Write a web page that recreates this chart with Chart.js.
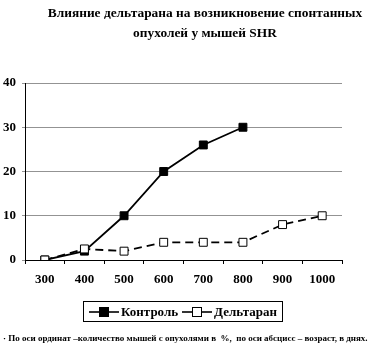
<!DOCTYPE html>
<html lang="ru">
<head>
<meta charset="utf-8">
<script src="https://cdn.jsdelivr.net/npm/chart.js@4/dist/chart.umd.min.js"></script>
<style>
  html, body { margin: 0; padding: 0; background: #fff; }
  #wrap { position: relative; width: 372px; height: 346px; overflow: hidden; font-family: 'Liberation Serif', 'Times New Roman', serif; font-weight: bold; color: #000; }
  #chart { position: absolute; left: 0; top: 0; }
  .title { position: absolute; left: 40px; width: 330px; text-align: center; font-size: 13.4px; white-space: nowrap; }
  #legend { position: absolute; left: 83px; top: 301px; width: 198px; height: 19px; border: 1px solid #000; display: flex; align-items: center; justify-content: center; font-size: 13px; white-space: nowrap; }
  #legend .item { display: flex; align-items: center; margin: 0 2px; }
  #legend svg { margin-right: 2px; }
  #note { position: absolute; left: 3px; top: 333px; font-size: 9px; white-space: nowrap; }
</style>
</head>
<body>
<div id="wrap">
  <canvas id="chart" width="372" height="346"></canvas>
  <div class="title" style="top:5px">Влияние дельтарана на возникновение спонтанных</div>
  <div class="title" style="top:25px">опухолей у мышей SHR</div>
  <div id="legend"></div>
  <div id="note">· По оси ординат –количество мышей с опухолями в &nbsp;%, &nbsp;по оси абсцисс – возраст, в днях.</div>
</div>
<script>
// возраст, дни
const days = ['300', '400', '500', '600', '700', '800', '900', '1000'];
// % мышей с опухолями
const control = [0, 2, 10, 20, 26, 30, null, null];
const deltaran = [0, 2.5, 2, 4, 4, 4, 8, 10];
const yTicks = [0, 10, 20, 30, 40];

const tickFont = { family: "'Liberation Serif', 'Times New Roman', serif", size: 13, weight: 'bold' };

const chart = new Chart(document.getElementById('chart'), {
  type: 'line',
  data: {
    labels: days,
    datasets: [
      {
        label: 'Контроль', data: control, order: 1,
        borderColor: '#000', borderWidth: 1.8, backgroundColor: '#000',
        pointStyle: 'rect', pointRadius: 5.6, pointBorderColor: '#000', pointBackgroundColor: '#000', pointBorderWidth: 1,
        spanGaps: false, tension: 0
      },
      {
        label: 'Дельтаран', data: deltaran, order: 0,
        borderColor: '#000', borderWidth: 1.8, borderDash: [8, 5], backgroundColor: '#fff',
        pointStyle: 'rect', pointRadius: 5.6, pointBorderColor: '#000', pointBackgroundColor: '#fff', pointBorderWidth: 1,
        tension: 0
      }
    ]
  },
  options: {
    responsive: false,
    animation: false,
    events: [],
    layout: { padding: { left: 0, right: 30, top: 83, bottom: 46 } },
    plugins: { legend: { display: false }, title: { display: false }, tooltip: { enabled: false } },
    scales: {
      x: {
        type: 'category',
        offset: true,
        grid: { offset: true, drawOnChartArea: false, drawTicks: true, tickLength: 4, color: '#000', lineWidth: 1 },
        border: { color: '#000', width: 1 },
        ticks: { color: '#000', font: tickFont, padding: 8, maxRotation: 0, autoSkip: false },
        afterFit: s => { s.height = 40; }
      },
      y: {
        min: 0, max: 40,
        afterBuildTicks: s => { s.ticks = yTicks.map(v => ({ value: v })); },
        grid: { color: '#939393', lineWidth: 1, tickLength: 3, drawTicks: true },
        border: { color: '#000', width: 1 },
        ticks: { color: '#000', font: tickFont, padding: 6 },
        afterFit: s => { s.width = 25; }
      }
    }
  }
});

// легенда: линия с маркером + подпись
const legend = document.getElementById('legend');
chart.data.datasets.forEach(ds => {
  const item = document.createElement('span');
  item.className = 'item';
  item.innerHTML = `<svg width="30" height="12"><line x1="0" y1="6" x2="30" y2="6" stroke="#000" stroke-width="1.6"/>` +
    `<rect x="10.5" y="1.5" width="9" height="9" fill="${ds.pointBackgroundColor}" stroke="#000" stroke-width="1"/></svg>${ds.label}`;
  legend.appendChild(item);
});
</script>
</body>
</html>
